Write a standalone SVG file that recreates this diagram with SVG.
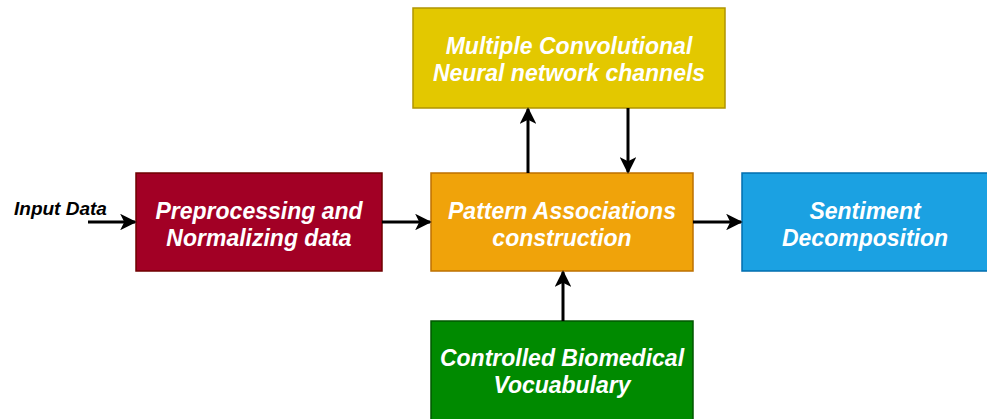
<svg xmlns="http://www.w3.org/2000/svg" width="987" height="419" viewBox="0 0 987 419">
<defs>
<marker id="ah" viewBox="0 0 10 10" refX="9" refY="5" markerWidth="5.5" markerHeight="5.5" markerUnits="strokeWidth" orient="auto">
<path d="M0,0 L10,5 L0,10 L2.5,5 Z" fill="#000"/>
</marker>
<style>
.bt{font-family:"Liberation Sans",Arial,sans-serif;font-weight:bold;font-style:italic;font-size:23px;fill:#fff;text-anchor:middle}
.lbl{font-family:"Liberation Sans",Arial,sans-serif;font-weight:bold;font-style:italic;font-size:19px;fill:#000}
.cn{stroke:#000;stroke-width:3;fill:none;marker-end:url(#ah)}
</style>
</defs>
<rect width="987" height="419" fill="#fff"/>
<g id="input"><text class="lbl" x="14" y="215">Input Data</text></g>
<g id="preprocess">
<rect x="136" y="173" width="246" height="98" fill="#a20025" stroke="#6f0000" stroke-width="1.5"/>
<text class="bt" x="259" y="219">Preprocessing and</text>
<text class="bt" x="259" y="246">Normalizing data</text>
</g>
<g id="cnn">
<rect x="413" y="8" width="312" height="100" fill="#e3c800" stroke="#b09500" stroke-width="1.5"/>
<text class="bt" x="569" y="54">Multiple Convolutional</text>
<text class="bt" x="569" y="81">Neural network channels</text>
</g>
<g id="pattern">
<rect x="431" y="173" width="262" height="98" fill="#f0a30a" stroke="#bd7000" stroke-width="1.5"/>
<text class="bt" x="562" y="219">Pattern Associations</text>
<text class="bt" x="562" y="246">construction</text>
</g>
<g id="sentiment">
<rect x="742" y="173" width="250" height="98" fill="#1ba1e2" stroke="#006eaf" stroke-width="1.5"/>
<text class="bt" x="865" y="219">Sentiment</text>
<text class="bt" x="865" y="246">Decomposition</text>
</g>
<g id="vocab">
<rect x="431" y="321" width="262" height="105" fill="#008a00" stroke="#005700" stroke-width="1.5"/>
<text class="bt" x="562" y="366">Controlled Biomedical</text>
<text class="bt" x="562" y="393">Vocuabulary</text>
</g>
<g id="connectors">
<line class="cn" x1="88" y1="222" x2="135" y2="222"/>
<line class="cn" x1="382" y1="222" x2="430" y2="222"/>
<line class="cn" x1="693" y1="222" x2="741" y2="222"/>
<line class="cn" x1="528" y1="173" x2="528" y2="109"/>
<line class="cn" x1="628" y1="108" x2="628" y2="172"/>
<line class="cn" x1="563" y1="321" x2="563" y2="272"/>
</g>
</svg>
